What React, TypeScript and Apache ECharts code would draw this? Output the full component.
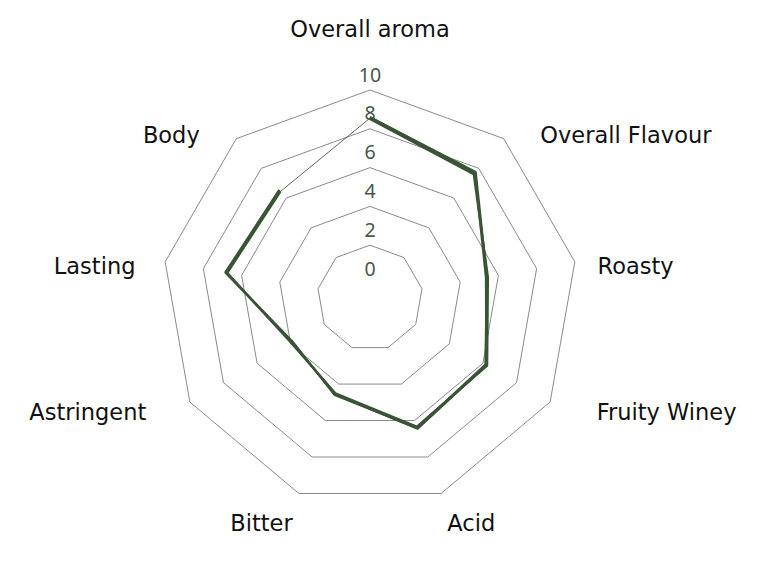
import * as echarts from 'echarts';
import { useEffect, useRef } from 'react';

// clockwise from the top
const categories = [
  'Overall aroma',
  'Overall Flavour',
  'Roasty',
  'Fruity Winey',
  'Acid',
  'Bitter',
  'Astringent',
  'Lasting',
  'Body',
];

const scaleMin = 0;
const scaleMax = 10;

const tastingA = [8.6, 7.7, 5.35, 6.2, 6.45, 4.55, 3.9, 6.8, 6.5];
const tastingB = [8.5, 7.6, 5.45, 6.25, 6.35, 4.5, 3.95, 6.75, 6.45];
const tastingC = [8.6, 7.75, 5.4, 6.15, 6.4, 4.6, 3.85, 6.85, 6.55];
const tastingD = [8.55, 7.65, 5.4, 6.2, 6.3, 4.55, 3.9, 6.8, 6.45];

const LINE = '#3a5436';
const GRID = '#8a8a8a';
const FONT = '"DejaVu Sans", sans-serif';
const CENTER = [370, 298];
const RADIUS = [14, 208];

// nudges for the spoke names [top, right, bottom, left]
const namePad: number[][] = [
  [0, 0, 32, 0],
  [20, 0, 0, 25],
  [14, 0, 0, 5],
  [2, 0, 0, 31],
  [25, 0, 0, 0],
  [25, 0, 0, 0],
  [2, 28, 0, 0],
  [14, 12, 0, 0],
  [20, 25, 0, 0],
];

export default function App() {
  const ref = useRef<HTMLDivElement | null>(null);

  useEffect(() => {
    if (!ref.current) return undefined;
    const chart = echarts.init(ref.current, undefined, { renderer: 'svg' });

    // radar goes counter-clockwise, so keep the first spoke and reverse the rest
    const radarOrder = [categories[0], ...categories.slice(1).reverse()];

    const rich: Record<string, any> = {};
    namePad.forEach((p, i) => {
      rich['n' + i] = { padding: p, fontSize: 22.5, fontFamily: FONT, color: '#111' };
    });

    const toPolar = (vals: number[]) => vals.map((v, i) => [v, i]);
    const closed = (vals: number[]) => [...toPolar(vals), [vals[0], vals.length]];

    chart.setOption({
      animation: false,
      backgroundColor: '#fff',
      radar: {
        center: CENTER,
        radius: RADIUS,
        startAngle: 90,
        shape: 'polygon',
        splitNumber: 5,
        axisNameGap: 18,
        indicator: radarOrder.map((name, i) => ({
          name,
          min: scaleMin,
          max: scaleMax,
          ...(i === 0 ? { axisLabel: { show: true } } : {}),
        })),
        axisName: {
          formatter: (name: string) => `{n${categories.indexOf(name)}|${name}}`,
          rich,
        },
        axisLine: { show: false },
        axisTick: { show: false },
        axisLabel: {
          show: false,
          margin: 0,
          align: 'center',
          verticalAlign: 'bottom',
          padding: [0, 0, 6, 0],
          color: '#46564a',
          fontSize: 19.5,
          fontFamily: '"Noto Sans", sans-serif',
        },
        splitArea: { show: false },
        splitLine: {
          lineStyle: {
            color: ['rgba(0,0,0,0)', GRID, GRID, GRID, GRID, GRID],
            width: 1,
          },
        },
      },
      polar: { center: CENTER, radius: RADIUS },
      angleAxis: {
        type: 'value',
        min: 0,
        max: categories.length,
        startAngle: 90,
        clockwise: true,
        show: false,
      },
      radiusAxis: { type: 'value', min: scaleMin, max: scaleMax, show: false },
      series: [
        ...[tastingA, tastingB, tastingC].map((vals) => ({
          type: 'line',
          coordinateSystem: 'polar',
          data: toPolar(vals),
          symbol: 'none',
          lineStyle: { color: LINE, width: 2.3 },
        })),
        {
          type: 'line',
          coordinateSystem: 'polar',
          data: closed(tastingD),
          symbol: 'none',
          lineStyle: { color: LINE, width: 1, opacity: 0.85 },
        },
      ],
    });

    return () => chart.dispose();
  }, []);

  return (
    <div
      ref={ref}
      style={{ position: 'fixed', left: 0, top: 0, width: 768, height: 564 }}
    />
  );
}
